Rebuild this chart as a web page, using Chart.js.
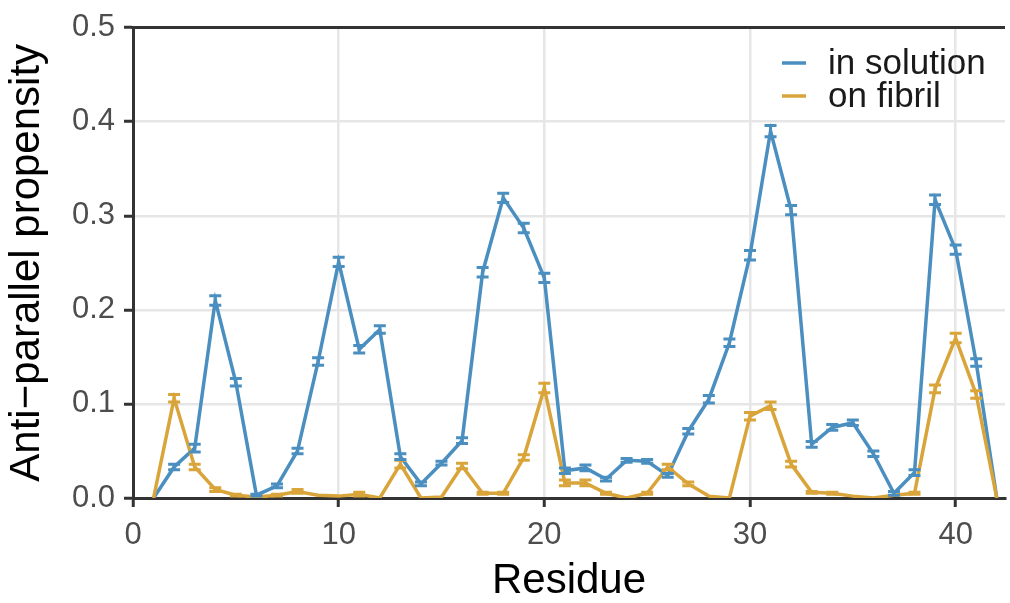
<!DOCTYPE html>
<html>
<head>
<meta charset="utf-8">
<script src="https://cdn.jsdelivr.net/npm/chart.js@4.4.0/dist/chart.umd.min.js"></script>
<style>
  html, body { margin: 0; padding: 0; background: #fff; }
  #chart { display: block; }
</style>
</head>
<body>
<canvas id="chart" width="1010" height="603"></canvas>
<script>
// residues 1..42
var residues = [1,2,3,4,5,6,7,8,9,10,11,12,13,14,15,16,17,18,19,20,21,22,23,24,25,26,27,28,29,30,31,32,33,34,35,36,37,38,39,40,41,42];

var inSolution = [0,0.033,0.053,0.210,0.123,0.003,0.013,0.050,0.145,0.251,0.158,0.179,0.044,0.015,
  0.037,0.061,0.240,0.319,0.287,0.234,0.029,0.032,0.020,0.040,0.039,0.024,0.071,0.105,
  0.165,0.258,0.390,0.306,0.057,0.075,0.080,0.047,0.005,0.027,0.317,0.264,0.144,0];
var inSolutionErr = [0,0.003,0.004,0.005,0.004,0.001,0.002,0.003,0.004,0.005,0.004,0.004,0.003,0.002,
  0.002,0.003,0.005,0.005,0.005,0.005,0.003,0.003,0.002,0.002,0.002,0.002,0.003,0.004,
  0.004,0.005,0.006,0.005,0.003,0.003,0.003,0.003,0.002,0.003,0.005,0.005,0.004,0];

var onFibril = [0,0.106,0.033,0.009,0.003,0.001,0.003,0.007,0.003,0.002,0.004,0,0.036,0,
  0.001,0.034,0.005,0.005,0.043,0.117,0.016,0.016,0.005,0,0.005,0.033,0.015,0.002,
  0,0.087,0.098,0.036,0.006,0.005,0.002,0,0.003,0.005,0.116,0.170,0.110,0];
var onFibrilErr = [0,0.004,0.003,0.002,0.001,0,0.001,0.002,0,0,0.002,0,0.004,0,
  0,0.003,0.001,0.001,0.003,0.005,0.003,0.003,0.001,0,0.001,0.003,0.002,0,
  0,0.004,0.004,0.003,0.001,0.001,0,0,0,0.001,0.004,0.005,0.004,0];

var xTicks = [0, 10, 20, 30, 40];
var yTicks = [0, 0.1, 0.2, 0.3, 0.4, 0.5];

var BLUE = '#4a8fc0';
var GOLD = '#d9a53a';
var FONT = '"Liberation Sans", Arial, Helvetica, sans-serif';

function toPoints(ys) {
  return residues.map(function(r, i) { return { x: r, y: ys[i] }; });
}

// error bars + top border + legend, drawn on the library's scales
var extras = {
  id: 'extras',
  afterDatasetsDraw: function(chart) {
    var ctx = chart.ctx, xs = chart.scales.x, ys = chart.scales.y;
    var errs = [onFibrilErr, inSolutionErr];
    chart.data.datasets.forEach(function(ds, di) {
      ctx.save();
      ctx.strokeStyle = ds.borderColor;
      ctx.lineWidth = 3;
      ds.data.forEach(function(p, i) {
        var e = errs[di][i];
        if (!e) return;
        var px = xs.getPixelForValue(p.x);
        var y1 = ys.getPixelForValue(Math.max(0, p.y - e));
        var y2 = ys.getPixelForValue(p.y + e);
        ctx.beginPath();
        ctx.moveTo(px, y1); ctx.lineTo(px, y2);
        ctx.moveTo(px - 6, y1); ctx.lineTo(px + 6, y1);
        ctx.moveTo(px - 6, y2); ctx.lineTo(px + 6, y2);
        ctx.stroke();
      });
      ctx.restore();
    });
  },
  afterDraw: function(chart) {
    var ctx = chart.ctx, a = chart.chartArea;
    ctx.save();
    ctx.strokeStyle = '#333';
    ctx.lineWidth = 3;
    ctx.beginPath();
    ctx.moveTo(a.left - 1.5, a.top);
    ctx.lineTo(a.right, a.top);
    ctx.stroke();

    // legend
    var items = [chart.data.datasets[1], chart.data.datasets[0]];
    ctx.font = '35px ' + FONT;
    ctx.textBaseline = 'alphabetic';
    ctx.textAlign = 'left';
    items.forEach(function(ds, i) {
      var cy = 63 + i * 33;
      ctx.strokeStyle = ds.borderColor;
      ctx.lineWidth = 3.5;
      ctx.beginPath();
      ctx.moveTo(782, cy); ctx.lineTo(806, cy);
      ctx.stroke();
      ctx.fillStyle = '#1a1a1a';
      ctx.fillText(ds.label, 828, cy + 11);
    });
    ctx.restore();
  }
};

new Chart(document.getElementById('chart'), {
  type: 'line',
  data: {
    datasets: [
      { label: 'on fibril', data: toPoints(onFibril), borderColor: GOLD, backgroundColor: GOLD,
        borderWidth: 3.5, pointRadius: 0, tension: 0, fill: false },
      { label: 'in solution', data: toPoints(inSolution), borderColor: BLUE, backgroundColor: BLUE,
        borderWidth: 3.5, pointRadius: 0, tension: 0, fill: false }
    ]
  },
  options: {
    responsive: false,
    animation: false,
    layout: { padding: { top: 20, right: 5, left: 0, bottom: 0 } },
    plugins: { legend: { display: false }, tooltip: { enabled: false } },
    scales: {
      x: {
        type: 'linear', min: 0, max: 42.4,
        afterBuildTicks: function(s) { s.ticks = xTicks.map(function(v) { return { value: v }; }); },
        afterFit: function(s) { s.height = 105; },
        grid: { color: '#e6e6e6', lineWidth: 2.5, tickColor: '#333', tickWidth: 3, tickLength: 9 },
        border: { display: true, color: '#333', width: 3 },
        ticks: { color: '#4d4d4d', font: { family: FONT, size: 31 }, padding: 10, maxRotation: 0 },
        title: { display: true, text: 'Residue', color: '#000', font: { family: FONT, size: 42 },
          padding: { top: 0, bottom: -4 } }
      },
      y: {
        min: 0, max: 0.5,
        afterBuildTicks: function(s) { s.ticks = yTicks.map(function(v) { return { value: v }; }); },
        afterFit: function(s) { s.width = 133; },
        grid: { color: '#e6e6e6', lineWidth: 2.5, tickColor: '#333', tickWidth: 3, tickLength: 9 },
        border: { display: true, color: '#333', width: 3 },
        ticks: { color: '#4d4d4d', font: { family: FONT, size: 31 }, padding: 9,
          callback: function(v) { return v.toFixed(1); } },
        title: { display: true, text: 'Anti\u2212parallel propensity', color: '#000',
          font: { family: FONT, size: 42 }, padding: { top: 2, bottom: 0 } }
      }
    }
  },
  plugins: [extras]
});
</script>
</body>
</html>
